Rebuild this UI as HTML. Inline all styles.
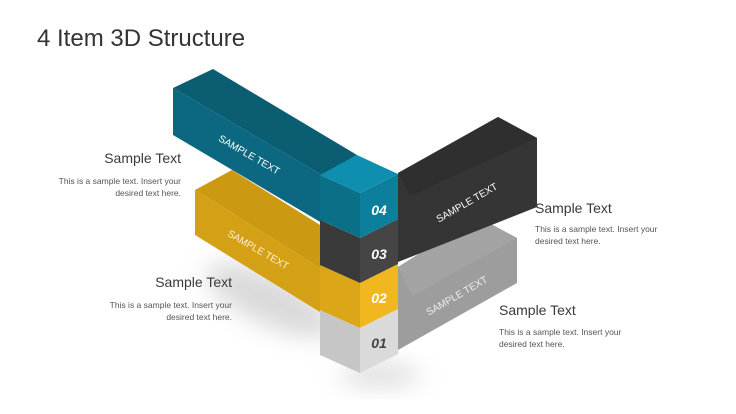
<!DOCTYPE html>
<html><head><meta charset="utf-8"><style>
body{margin:0;width:736px;height:414px;background:#fff;overflow:hidden;font-family:"Liberation Sans",sans-serif;position:relative}
.t{position:absolute;color:#333;white-space:nowrap}
.h{font-size:14px;color:#3a3a3a}
.b{font-size:8.5px;line-height:12px;color:#555}
.r{text-align:right}
</style></head><body>
<svg width="736" height="414" style="position:absolute;left:0;top:0">
<defs><filter id="bl" x="-50%" y="-50%" width="200%" height="200%"><feGaussianBlur stdDeviation="12"/></filter></defs>
<ellipse cx="270" cy="300" rx="70" ry="25" fill="#bbb" opacity="0.55" filter="url(#bl)" transform="rotate(25 270 300)"/>
<ellipse cx="380" cy="375" rx="40" ry="12" fill="#bbb" opacity="0.5" filter="url(#bl)"/>
<!-- gray bar -->
<polygon points="398,267 478,217 517,238 517,283 398,350" fill="#9d9d9d"/>
<polygon points="398,267 478,217 517,238 412,296" fill="#a3a3a3"/>
<!-- dark bar -->
<polygon points="398,173 498,117 537,138 537,207 398,262" fill="#353535"/>
<polygon points="398,173 498,117 537,138 410,196" fill="#2f2f2f"/>
<!-- yellow bar -->
<polygon points="195,190 232,170 357,248 320,268" fill="#cc9a12"/>
<polygon points="195,190 320,268 320,312 195,235" fill="#d4a016"/>
<!-- teal bar -->
<polygon points="173,88 213,69 357,155 322,175" fill="#0b5d72"/>
<polygon points="173,88 322,175 322,223 173,135" fill="#0c6881"/>
<!-- column -->
<polygon points="320,355 360,373 360,328 320,310" fill="#c6c6c6"/>
<polygon points="360,373 398,354 398,309 360,328" fill="#dadada"/>
<polygon points="320,310 360,328 360,283 320,265" fill="#dba617"/>
<polygon points="360,328 398,309 398,264 360,283" fill="#f0b81e"/>
<polygon points="320,265 360,283 360,238 320,220" fill="#3a3a3a"/>
<polygon points="360,283 398,264 398,219 360,238" fill="#454545"/>
<polygon points="320,220 360,238 360,193 320,175" fill="#0b6f88"/>
<polygon points="360,238 398,219 398,174 360,193" fill="#0c7f9c"/>
<polygon points="320,175 357,155 398,174 360,193" fill="#0e8fb0"/>
<g font-family="Liberation Sans" font-size="10" fill="#fff" text-anchor="middle">
<text x="249" y="158" transform="rotate(30 249 155)">SAMPLE TEXT</text>
<text x="258" y="253" transform="rotate(30 258 250)" fill="#fff3cc">SAMPLE TEXT</text>
<text x="467" y="206" transform="rotate(-30 467 203)">SAMPLE TEXT</text>
<text x="457" y="299" transform="rotate(-30 457 296)" fill="#eee">SAMPLE TEXT</text>
</g>
<g font-family="Liberation Sans" font-size="14" font-weight="bold" font-style="italic" text-anchor="middle">
<text x="379" y="215" fill="#fff">04</text>
<text x="379" y="259" fill="#fff">03</text>
<text x="379" y="303" fill="#fff">02</text>
<text x="379" y="348" fill="#444">01</text>
</g>
</svg>
<div class="t" style="left:37px;top:25px;font-size:24px;color:#333">4 Item 3D Structure</div>
<div class="t h r" style="right:555px;top:150px">Sample Text</div>
<div class="t b r" style="right:555px;top:175px">This is a sample text. Insert your<br>desired text here.</div>
<div class="t h r" style="right:504px;top:274px">Sample Text</div>
<div class="t b r" style="right:504px;top:299px">This is a sample text. Insert your<br>desired text here.</div>
<div class="t h" style="left:535px;top:200px">Sample Text</div>
<div class="t b" style="left:535px;top:223px">This is a sample text. Insert your<br>desired text here.</div>
<div class="t h" style="left:499px;top:302px">Sample Text</div>
<div class="t b" style="left:499px;top:326px">This is a sample text. Insert your<br>desired text here.</div>
</body></html>
